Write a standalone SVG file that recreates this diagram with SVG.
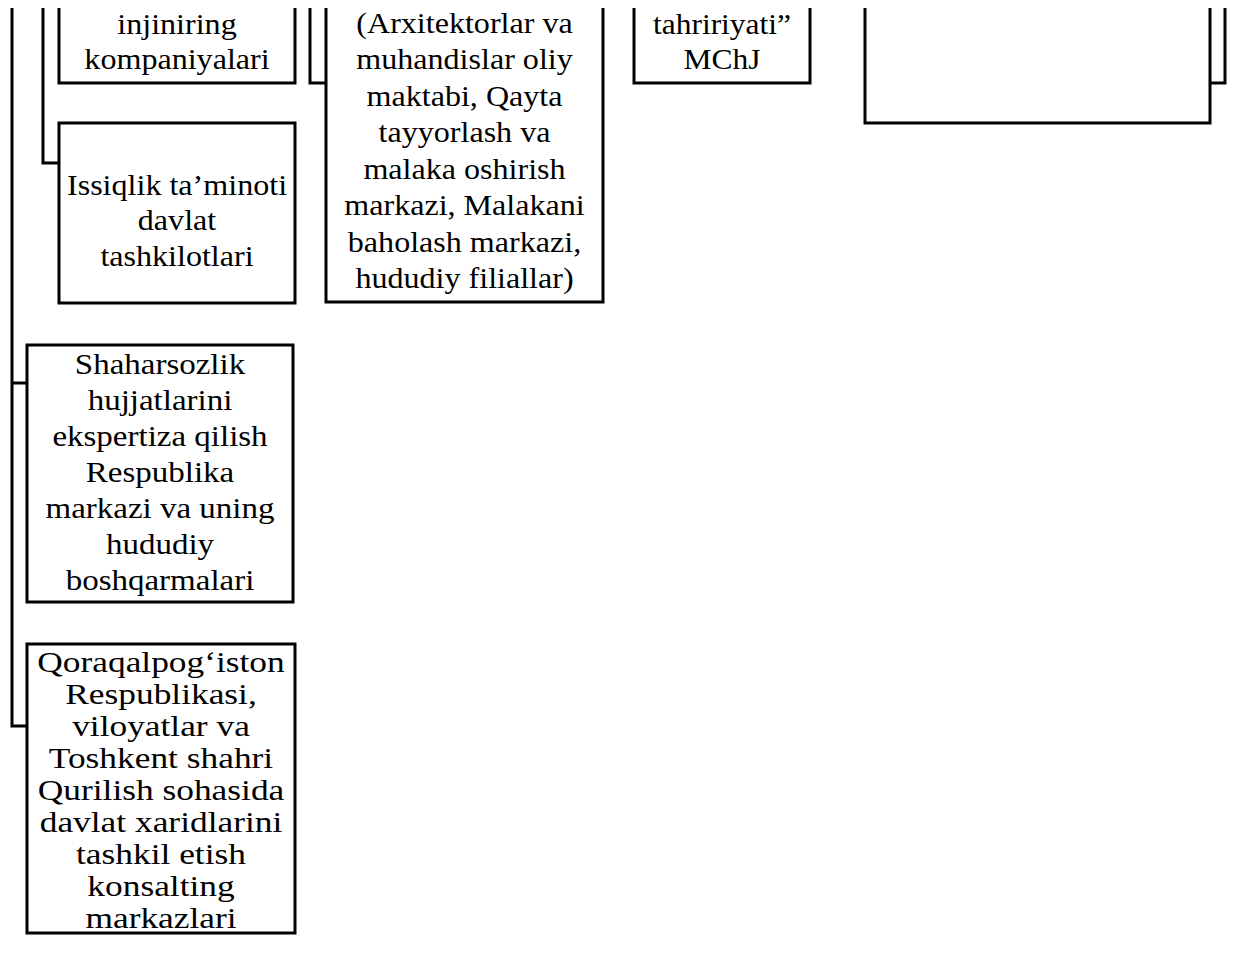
<svg xmlns="http://www.w3.org/2000/svg" width="1235" height="980" viewBox="0 0 1235 980">
<style>
.b{fill:#fff;stroke:#000;stroke-width:3}
.o{fill:none;stroke:#000;stroke-width:3}
.c{fill:none;stroke:#000;stroke-width:3}
text{font-family:"Liberation Serif","Times New Roman",serif;font-size:30px;fill:#000;text-anchor:middle}
.s{font-size:29px}
</style>
<rect width="1235" height="980" fill="#fff"/>
<g id="connectors">
<path class="c" d="M12,8 V726 H27"/>
<path class="c" d="M12,383 H27"/>
<path class="c" d="M43,8 V163 H59"/>
<path class="c" d="M310,8 V83 H326"/>
<path class="c" d="M1225,8 V83 H1210"/>
</g>
<g id="node-injiniring">
<path class="o" d="M59,8 V83 H295 V8"/>
<g transform="translate(177,0) scale(1.07,1)">
<text x="0" y="34">injiniring</text>
<text x="0" y="69">kompaniyalari</text>
</g>
</g>
<g id="node-issiqlik">
<rect class="b" x="59" y="123" width="236" height="180"/>
<g transform="translate(177,0) scale(1.07,1)">
<text x="0" y="195">Issiqlik ta’minoti</text>
<text x="0" y="230.5">davlat</text>
<text x="0" y="266">tashkilotlari</text>
</g>
</g>
<g id="node-arxitektorlar">
<path class="o" d="M326,8 V302 H603 V8"/>
<g transform="translate(464.5,0) scale(1.07,1)">
<text x="0" y="33">(Arxitektorlar va</text>
<text x="0" y="69.5">muhandislar oliy</text>
<text x="0" y="106">maktabi, Qayta</text>
<text x="0" y="142.5">tayyorlash va</text>
<text x="0" y="179">malaka oshirish</text>
<text x="0" y="215.5">markazi, Malakani</text>
<text x="0" y="252">baholash markazi,</text>
<text x="0" y="288.5">hududiy filiallar)</text>
</g>
</g>
<g id="node-tahririyati">
<path class="o" d="M634,8 V83 H810 V8"/>
<g transform="translate(722,0) scale(1.05,1)">
<text x="0" y="34">tahririyati”</text>
<text x="0" y="69">MChJ</text>
</g>
</g>
<g id="node-empty">
<path class="o" d="M865,8 V123 H1210 V8"/>
</g>
<g id="node-shaharsozlik">
<rect class="b" x="27" y="345" width="266" height="257"/>
<g transform="translate(160,0) scale(1.1,1)">
<text x="0" y="374">Shaharsozlik</text>
<text x="0" y="410">hujjatlarini</text>
<text x="0" y="446">ekspertiza qilish</text>
<text x="0" y="482">Respublika</text>
<text x="0" y="518">markazi va uning</text>
<text x="0" y="554">hududiy</text>
<text x="0" y="590">boshqarmalari</text>
</g>
</g>
<g id="node-qoraqalpog">
<rect class="b" x="27" y="644" width="268" height="289"/>
<g transform="translate(161,0) scale(1.22,1)">
<text class="s" x="0" y="672">Qoraqalpog‘iston</text>
<text class="s" x="0" y="704">Respublikasi,</text>
<text class="s" x="0" y="736">viloyatlar va</text>
<text class="s" x="0" y="768">Toshkent shahri</text>
<text class="s" x="0" y="800">Qurilish sohasida</text>
<text class="s" x="0" y="832">davlat xaridlarini</text>
<text class="s" x="0" y="864">tashkil etish</text>
<text class="s" x="0" y="896">konsalting</text>
<text class="s" x="0" y="928">markazlari</text>
</g>
</g>
</svg>
